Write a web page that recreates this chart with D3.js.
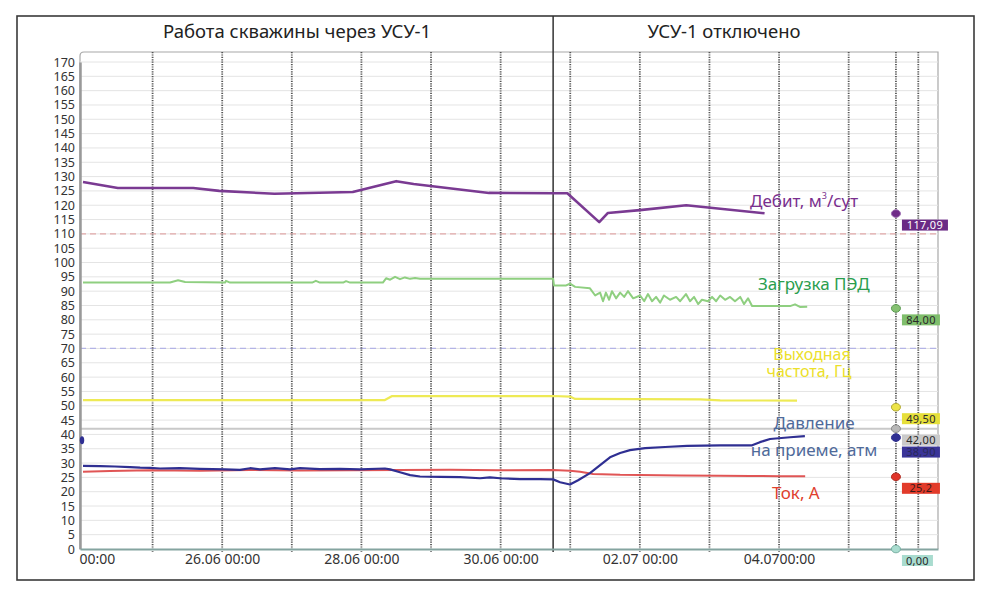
<!DOCTYPE html>
<html><head><meta charset="utf-8">
<script src="https://cdn.jsdelivr.net/npm/d3@7/dist/d3.min.js"></script>
<style>
body{margin:0;background:#fff}
svg{display:block}
text{font-family:"Noto Sans",sans-serif}
</style>
</head><body>
<svg id="c" width="1000" height="593"></svg>
<script>
// ---------- DATA ----------
const baseDate = new Date(2015, 5, 24, 0, 0); // 24.06 00:00, hours below are offsets from it
const headerLeft = "Работа скважины через УСУ-1";
const headerRight = "УСУ-1 отключено";
const yTickValues = d3.range(0, 171, 5);
const xTickHours = [0, 48, 96, 144, 192, 240];
const xTickTexts = ["00:00", "26.06 00:00", "28.06 00:00", "30.06 00:00", "02.07 00:00", "04.0700:00"];
const dayLineHours = [24, 48, 72, 96, 120, 144, 168, 192, 216, 240, 264, 288];
const switchOffHour = 162.1;  // УСУ-1 отключено
const cursorHour = 280.3;

const debitHours  = [0, 12, 38, 47, 66, 93, 108, 114, 140, 162, 167, 178, 181, 192, 208, 235];
const debitValues = [128.1, 126, 126, 125, 124, 124.6, 128.4, 127.4, 124.3, 124.2, 124.2, 114.1, 117.3, 118.3, 120, 117.2];

const loadHours  = [0, 30, 32.8, 35.2, 49, 49.3, 50.7, 79, 80.3, 81.7, 89.7, 90.7, 92.1, 103.4, 104.5, 105.9, 107.6, 109.3, 111, 112.8, 114.5, 116.2, 162.1, 162.4, 166.6, 167.9, 169.7, 174.8, 176.6, 178.3, 179.3, 180.3, 181.4, 182.4, 183.8, 185.2, 186.6, 187.9, 189.7, 192.1, 193.5, 194.8, 196.2, 197.6, 199, 200.3, 202.4, 204.5, 205.9, 207.9, 209.3, 210.7, 212.1, 213.4, 215.5, 216.9, 218.3, 219.7, 221.4, 223.1, 224.8, 226.6, 227.9, 229.3, 230.7, 233.4, 243.8, 245.5, 247.2, 249.7];
const loadValues = [93, 93, 93.8, 93.2, 93, 93.6, 93, 93, 93.6, 93, 93, 93.5, 93, 93, 94.5, 94, 95, 94.2, 94.8, 94.3, 94.6, 94.3, 94.3, 92, 92, 92.6, 91.5, 91, 88.5, 89.5, 86.5, 89.5, 87, 90, 87.5, 89.5, 88, 90, 87.5, 88.5, 86.5, 89, 86.5, 88, 86, 88.5, 87, 88, 86.5, 89, 86.5, 88, 85.5, 87, 86.5, 88, 86.5, 88.5, 87, 88, 86.5, 88, 85.5, 87.5, 84.8, 84.8, 84.8, 85.4, 84.5, 84.6];

const freqHours  = [0, 104.1, 106.6, 162.1, 167.9, 169.7, 212.8, 219.7, 246.2];
const freqValues = [52, 52, 53.4, 53.4, 53.2, 52.4, 52.2, 51.9, 51.8];

const pressHours  = [0, 5.9, 11, 16.2, 19.7, 23.1, 26.6, 33.4, 40.3, 49, 54.1, 57.6, 61, 66.2, 71.4, 74.8, 81.7, 88.6, 95.5, 104.1, 105.9, 109.3, 112.8, 116.2, 123.1, 130, 136.9, 140.3, 143.8, 150.7, 157.6, 162.1, 164.5, 167.9, 170.7, 174.8, 178.3, 181.7, 185.2, 188.6, 193.8, 200.7, 208.3, 219.7, 230.7, 233.4, 236.9, 243.8, 248.9];
const pressValues = [29, 28.9, 28.8, 28.6, 28.4, 28.3, 28.1, 28.2, 28.0, 27.8, 27.6, 28.2, 27.8, 28.2, 27.8, 28.2, 27.9, 28.0, 27.8, 28.1, 27.8, 26.8, 25.8, 25.3, 25.2, 25.1, 24.7, 25.0, 24.7, 24.4, 24.4, 24.3, 23.3, 22.5, 24, 26.5, 29.3, 32, 33.5, 34.5, 35.2, 35.6, 36, 36.2, 36.2, 37.3, 38.4, 39, 39.4];

const currHours  = [0, 9.3, 23.1, 40.3, 57.6, 74.8, 92.1, 109.3, 126.6, 143.8, 162.1, 167.9, 171.4, 175.9, 185.2, 205.9, 219.7, 230, 240.3, 249];
const currValues = [27, 27.2, 27.5, 27.3, 27.6, 27.4, 27.5, 27.6, 27.7, 27.5, 27.6, 27.3, 27.0, 26.2, 25.9, 25.7, 25.6, 25.5, 25.4, 25.4];

const refLevels = [110, 70, 42];
const cursorValues = [117.09, 84.00, 49.50, 42.00, 38.90, 25.2, 0];
const cursorTexts  = ["117,09", "84,00", "49,50", "42,00", "38,90", "25,2", "0,00"];
const pressStartValue = 38;

// ---------- LAYOUT / STYLE ----------
const svg = d3.select("#c");
const L = 80, R = 938, T = 52, B = 549;
const hoursToDate = h => new Date(baseDate.getTime() + h * 3600e3);
const x = d3.scaleTime().domain([hoursToDate(-1.03), hoursToDate(294.8)]).range([L, R]);
const y = d3.scaleLinear().domain([0, 170]).range([B, 62]);

// outer frame
svg.append("rect").attr("x", 17).attr("y", 16).attr("width", 957).attr("height", 564)
  .attr("fill", "none").attr("stroke", "#3a3a3a").attr("stroke-width", 1.6);

// header texts
svg.append("text").attr("x", 297).attr("y", 38).attr("text-anchor", "middle")
  .attr("font-size", 18.5).attr("fill", "#222").text(headerLeft);
svg.append("text").attr("x", 724).attr("y", 38).attr("text-anchor", "middle")
  .attr("font-size", 18.5).attr("fill", "#222").text(headerRight);

// plot frame (top/right)
svg.append("path").attr("d", `M${L},${B} L${L},${T + 4} Q${L},${T} ${L + 4},${T} L${R},${T} L${R},${B}`)
  .attr("fill", "none").attr("stroke", "#a8a8a8").attr("stroke-width", 1.2);

// horizontal gridlines
svg.append("g").selectAll("line").data(yTickValues.filter(v => v > 0)).join("line")
  .attr("x1", L).attr("x2", R).attr("y1", d => y(d)).attr("y2", d => y(d))
  .attr("stroke", "#e4e4e4").attr("stroke-width", 1);

// reference lines
const refStyles = [
  {color: "#e2a9a9", dash: "6,4", w: 1.3},
  {color: "#b4b4e6", dash: "6,4", w: 1.3},
  {color: "#c9c9c9", dash: null, w: 2}
];
svg.append("g").selectAll("line").data(refLevels).join("line")
  .attr("x1", L).attr("x2", R).attr("y1", d => y(d)).attr("y2", d => y(d))
  .attr("stroke", (d, i) => refStyles[i].color)
  .attr("stroke-width", (d, i) => refStyles[i].w)
  .attr("stroke-dasharray", (d, i) => refStyles[i].dash);

// vertical dotted day lines
const dayLines = dayLineHours.concat([cursorHour]);
svg.append("g").selectAll("line").data(dayLines).join("line")
  .attr("x1", d => x(hoursToDate(d))).attr("x2", d => x(hoursToDate(d)))
  .attr("y1", T).attr("y2", B + 3)
  .attr("stroke", "#555").attr("stroke-width", 1.8).attr("stroke-dasharray", "1.2,1.2");

// divider
svg.append("line").attr("x1", x(hoursToDate(switchOffHour))).attr("x2", x(hoursToDate(switchOffHour)))
  .attr("y1", 16).attr("y2", B + 3).attr("stroke", "#333").attr("stroke-width", 1.5);

// axes
const yAxis = svg.append("g").attr("transform", `translate(${L},0)`)
  .call(d3.axisLeft(y).tickValues(yTickValues).tickSize(0).tickPadding(5));
yAxis.select(".domain").attr("stroke", "#999").attr("stroke-width", 2.5);
yAxis.selectAll("text").attr("font-size", 12.5).attr("fill", "#333")
  .attr("font-family", "'Noto Sans',sans-serif");

const xAxis = svg.append("g").attr("transform", `translate(0,${B})`)
  .call(d3.axisBottom(x).tickValues(xTickHours.map(hoursToDate)).tickSize(0).tickPadding(5)
    .tickFormat((d, i) => xTickTexts[i]));
xAxis.select(".domain").attr("stroke", "#84a4a0").attr("stroke-width", 2);
xAxis.selectAll("text").attr("font-size", 14).attr("fill", "#333")
  .attr("font-family", "'Noto Sans',sans-serif");
xAxis.selectAll(".tick").filter((d, i) => i === 0).select("text").attr("dx", 14);

// series lines
const lineGen = (hours, values) => d3.line()
  .x((d, i) => x(hoursToDate(hours[i])))
  .y(d => y(d))(values);
const series = [
  {h: currHours,  v: currValues,  color: "#e05555", w: 2},
  {h: freqHours,  v: freqValues,  color: "#eeea55", w: 2.2},
  {h: loadHours,  v: loadValues,  color: "#8fcf80", w: 2},
  {h: pressHours, v: pressValues, color: "#2f2f92", w: 2.2},
  {h: debitHours, v: debitValues, color: "#7a3a92", w: 2.6}
];
svg.append("g").selectAll("path").data(series).join("path")
  .attr("d", d => lineGen(d.h, d.v))
  .attr("fill", "none").attr("stroke", d => d.color).attr("stroke-width", d => d.w)
  .attr("stroke-linejoin", "round");

// pressure start marker on the axis
svg.append("ellipse").attr("cx", L + 2).attr("cy", y(pressStartValue)).attr("rx", 2.2).attr("ry", 4)
  .attr("fill", "#2f2f92");

// series labels
const lbl = (txt, xx, yy, color, anchor, fs) => svg.append("text").attr("x", xx).attr("y", yy)
  .attr("text-anchor", anchor || "start").attr("font-size", fs || 17).attr("fill", color).text(txt);
const deb = lbl("Дебит, м", 750, y(119.4), "#7a2f8e");
deb.append("tspan").attr("font-size", 9).attr("dy", -8).text("3");
deb.append("tspan").attr("dy", 8).text("/сут");
lbl("Загрузка ПЭД", 758, y(90.4), "#2a9e4e");
lbl("Выходная", 812, y(66), "#ece02a", "middle", 16);
lbl("частота, Гц", 809, y(60.1), "#ece02a", "middle", 16);
lbl("Давление", 814, y(41.9), "#4f6a9a", "middle");
lbl("на приеме, атм", 814, y(32.5), "#4f6a9a", "middle");
lbl("Ток, А", 772, y(17.5), "#e0402e");

// cursor markers and value boxes
const markerStyles = [
  {fill: "#6f2b88", stroke: "#9a6ab0", box: "#6b2a85", text: "#fff"},
  {fill: "#86c172", stroke: "#5a9a50", box: "#7fbe6c", text: "#2a2a2a"},
  {fill: "#ece348", stroke: "#b0a830", box: "#e6df3a", text: "#2a2a2a"},
  {fill: "#b8b8b8", stroke: "#888", box: "#cacaca", text: "#2a2a2a"},
  {fill: "#2f2f92", stroke: "#2f2f92", box: "#3a3498", text: "#2a2a5a"},
  {fill: "#e0342a", stroke: "#b02a20", box: "#e23b2a", text: "#3a1a1a"},
  {fill: "#a9dccf", stroke: "#78b0a2", box: "#a9dccf", text: "#2a2a2a"}
];
const boxOffset = [6, 6, 6, 6, 9, 6, 6];
const cx = x(hoursToDate(cursorHour));
const mk = svg.append("g").selectAll("g").data(cursorValues).join("g");
mk.append("ellipse").attr("cx", cx).attr("cy", d => y(d)).attr("rx", 4.5).attr("ry", 3.8)
  .attr("fill", (d, i) => markerStyles[i].fill).attr("stroke", (d, i) => markerStyles[i].stroke)
  .attr("stroke-width", 1);
const boxW = [46, 38, 38, 38, 38, 38, 31];
mk.append("rect").attr("x", cx + 6).attr("y", (d, i) => y(d) + boxOffset[i]).attr("width", (d, i) => boxW[i]).attr("height", 11)
  .attr("fill", (d, i) => markerStyles[i].box);
mk.append("text").attr("x", (d, i) => cx + 6 + boxW[i] / 2).attr("y", (d, i) => y(d) + boxOffset[i] + 9.5)
  .attr("text-anchor", "middle").attr("font-size", 11).attr("letter-spacing", 0.3)
  .attr("fill", (d, i) => markerStyles[i].text).text((d, i) => cursorTexts[i]);
</script>
</body></html>
